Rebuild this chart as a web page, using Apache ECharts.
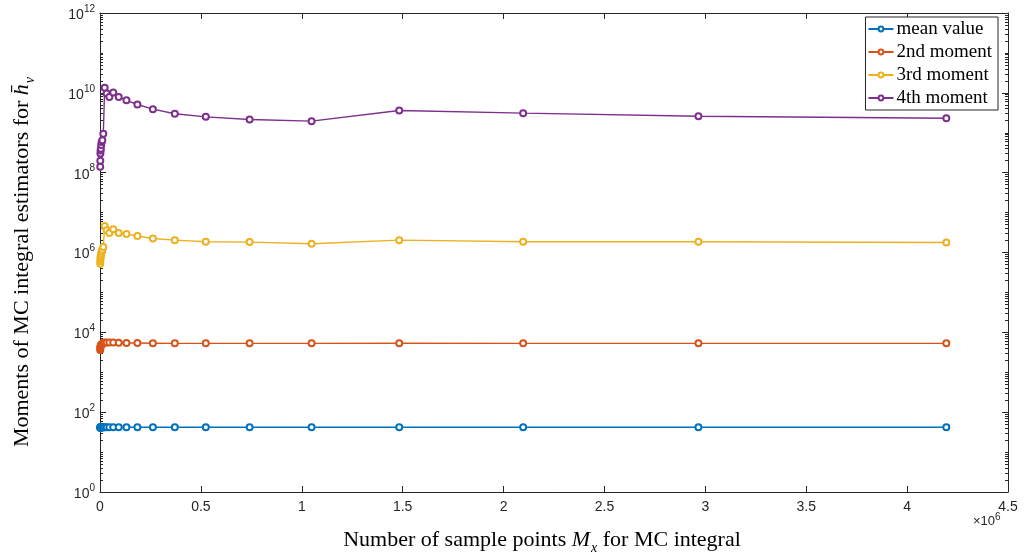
<!DOCTYPE html>
<html>
<head>
<meta charset="utf-8">
<script src="https://cdn.jsdelivr.net/npm/echarts@6/dist/echarts.min.js"></script>
<style>
  html, body { margin: 0; padding: 0; background: #fff; }
  #chart { width: 1024px; height: 554px; }
</style>
</head>
<body>
<div id="chart"></div>
<script>
// sample sizes M_x
var sampleSizes = [1024, 1448, 2048, 2896, 4096, 5793, 8192, 11585, 16384, 23170,
  32768, 46341, 65536, 92682, 131072, 185364, 262144, 370727, 524288, 741455,
  1048576, 1482910, 2097152, 2965821, 4194304];

var meanValue = [41, 42, 40, 42, 41, 43, 42, 41, 42, 42,
  42, 42, 42, 42, 42, 42, 42, 42, 42, 42,
  42, 42, 42, 42, 42];

var moment2 = [3600, 4000, 4300, 4500, 4700, 4900, 5000, 5100, 5400, 5600,
  5600, 5600, 5600, 5500, 5400, 5400, 5350, 5300, 5300, 5300,
  5300, 5350, 5300, 5300, 5300];

var moment3 = [5.2e5, 6.0e5, 6.9e5, 7.6e5, 8.3e5, 9.3e5, 1.05e6, 1.17e6, 1.38e6, 4.6e6,
  3.6e6, 3.1e6, 3.8e6, 3.1e6, 2.9e6, 2.6e6, 2.24e6, 2.04e6, 1.86e6, 1.82e6,
  1.66e6, 2.04e6, 1.86e6, 1.86e6, 1.78e6];

var moment4 = [1.4e8, 2.0e8, 3.0e8, 3.6e8, 4.0e8, 4.9e8, 5.9e8, 6.5e8, 9.5e8, 1.35e10,
  9.6e9, 7.9e9, 1.02e10, 7.9e9, 6.5e9, 5.1e9, 3.9e9, 3.0e9, 2.5e9, 2.15e9,
  1.95e9, 3.6e9, 3.1e9, 2.6e9, 2.3e9];

var seriesNames = ["mean value", "2nd moment", "3rd moment", "4th moment"];
var seriesColors = ["#0072BD", "#D95319", "#EDB120", "#7E2F8E"];

var axisColor = "#262626";
var tickFont = "'Liberation Sans', Arial, sans-serif";
var serifFont = "'Liberation Serif', 'DejaVu Serif', serif";

// minor tick positions for the log axis (in decades)
var minorTicks = [];
for (var d = 0; d < 12; d++) {
  for (var m = 2; m <= 10; m++) {
    if (m === 10 && (d + 1) % 2 === 0) continue;
    minorTicks.push(d + Math.log10(m));
  }
}

function pairs(ys) {
  return sampleSizes.map(function (x, i) { return [x, ys[i]]; });
}

var allData = [meanValue, moment2, moment3, moment4];
var series = allData.map(function (ys, i) {
  return {
    name: seriesNames[i],
    type: "line",
    xAxisIndex: 0,
    yAxisIndex: 0,
    data: pairs(ys),
    symbol: "emptyCircle",
    symbolSize: 6,
    lineStyle: { width: 1.4, color: seriesColors[i] },
    itemStyle: { color: seriesColors[i], borderWidth: 1.2 },
    animation: false
  };
});

var gridRect = { left: 100, right: 16, top: 13, bottom: 62, containLabel: false };

function hiddenX(gi) {
  return { type: "value", gridIndex: gi, min: 0, max: 1, show: false };
}
function minorY(gi, pos) {
  return {
    type: "value",
    gridIndex: gi,
    position: pos,
    min: 0,
    max: 12,
    axisLine: { show: false, onZero: false },
    axisTick: { show: true, inside: true, length: 3, customValues: minorTicks, lineStyle: { color: axisColor } },
    splitLine: { show: false },
    axisLabel: { show: false }
  };
}

var chart = echarts.init(document.getElementById("chart"));

var option = {
  backgroundColor: "#fff",
  animation: false,
  grid: [gridRect, gridRect, gridRect],
  legend: {
    orient: "vertical",
    right: 26,
    top: 17,
    data: seriesNames,
    backgroundColor: "#fff",
    borderColor: axisColor,
    borderWidth: 1,
    padding: [2, 6, 2, 2],
    itemGap: 3,
    itemWidth: 25,
    itemHeight: 6,
    textStyle: { fontFamily: serifFont, fontSize: 19, lineHeight: 20, color: "#000", padding: [0, 0, 0, -2] }
  },
  xAxis: [
    {
      type: "value",
      min: 0,
      max: 4500000,
      interval: 500000,
      axisLine: { show: true, onZero: false, lineStyle: { color: axisColor, width: 1 } },
      axisTick: { inside: true, length: 6, lineStyle: { color: axisColor } },
      splitLine: { show: false },
      axisLabel: {
        color: axisColor,
        fontFamily: tickFont,
        fontSize: 14,
        margin: 8,
        formatter: function (v) { return String(+(v / 1e6).toFixed(1)); }
      }
    },
    {
      type: "value",
      position: "top",
      min: 0,
      max: 4500000,
      interval: 500000,
      axisLine: { show: true, onZero: false, lineStyle: { color: axisColor, width: 1 } },
      axisTick: { inside: true, length: 6, lineStyle: { color: axisColor } },
      splitLine: { show: false },
      axisLabel: { show: false }
    },
    hiddenX(1),
    hiddenX(2)
  ],
  yAxis: [
    {
      type: "log",
      logBase: 10,
      min: 1,
      max: 1e12,
      interval: 2,
      axisLine: { show: true, onZero: false, lineStyle: { color: axisColor, width: 1 } },
      axisTick: { inside: true, length: 6, lineStyle: { color: axisColor } },
      splitLine: { show: false },
      axisLabel: {
        margin: 5,
        formatter: function (v) {
          var e = Math.round(Math.log10(v));
          return "{b|10}{s|" + e + "}";
        },
        rich: {
          b: { fontFamily: tickFont, fontSize: 14, color: axisColor, verticalAlign: "bottom" },
          s: { fontFamily: tickFont, fontSize: 10, color: axisColor, verticalAlign: "bottom", padding: [0, 0, 8, 0] }
        }
      }
    },
    {
      type: "log",
      logBase: 10,
      position: "right",
      min: 1,
      max: 1e12,
      interval: 2,
      axisLine: { show: true, onZero: false, lineStyle: { color: axisColor, width: 1 } },
      axisTick: { inside: true, length: 6, lineStyle: { color: axisColor } },
      splitLine: { show: false },
      axisLabel: { show: false }
    },
    minorY(1, "left"),
    minorY(2, "right")
  ],
  graphic: [
    {
      type: "text",
      x: 542,
      y: 540,
      style: {
        text: "Number of sample points {i|M}{sub|x} for MC integral",
        font: "22px " + serifFont,
        fill: "#000",
        align: "center",
        verticalAlign: "middle",
        rich: {
          i: { fontFamily: serifFont, fontSize: 22, fontStyle: "italic", fill: "#000", verticalAlign: "bottom" },
          sub: { fontFamily: serifFont, fontSize: 14, fontStyle: "italic", fill: "#000", verticalAlign: "bottom", padding: [0, 0, -4, 1] }
        }
      }
    },
    {
      type: "text",
      left: 973,
      top: 512,
      style: {
        text: "×10{s|6}",
        font: "13px " + tickFont,
        fill: axisColor,
        rich: {
          s: { fontFamily: tickFont, fontSize: 10, fill: axisColor, verticalAlign: "bottom", padding: [0, 0, 8, 0] }
        }
      }
    },
    {
      type: "text",
      x: 22,
      y: 262,
      rotation: Math.PI / 2,
      style: {
        text: "Moments of MC integral estimators for {i|h̄}{sub|ν}",
        font: "22px " + serifFont,
        fill: "#000",
        align: "center",
        verticalAlign: "middle",
        rich: {
          i: { fontFamily: serifFont, fontSize: 22, fontStyle: "italic", fill: "#000", verticalAlign: "bottom" },
          sub: { fontFamily: serifFont, fontSize: 14, fontStyle: "italic", fill: "#000", verticalAlign: "bottom", padding: [0, 0, -4, 1] }
        }
      }
    }
  ],
  series: series
};

chart.setOption(option);
</script>
</body>
</html>
